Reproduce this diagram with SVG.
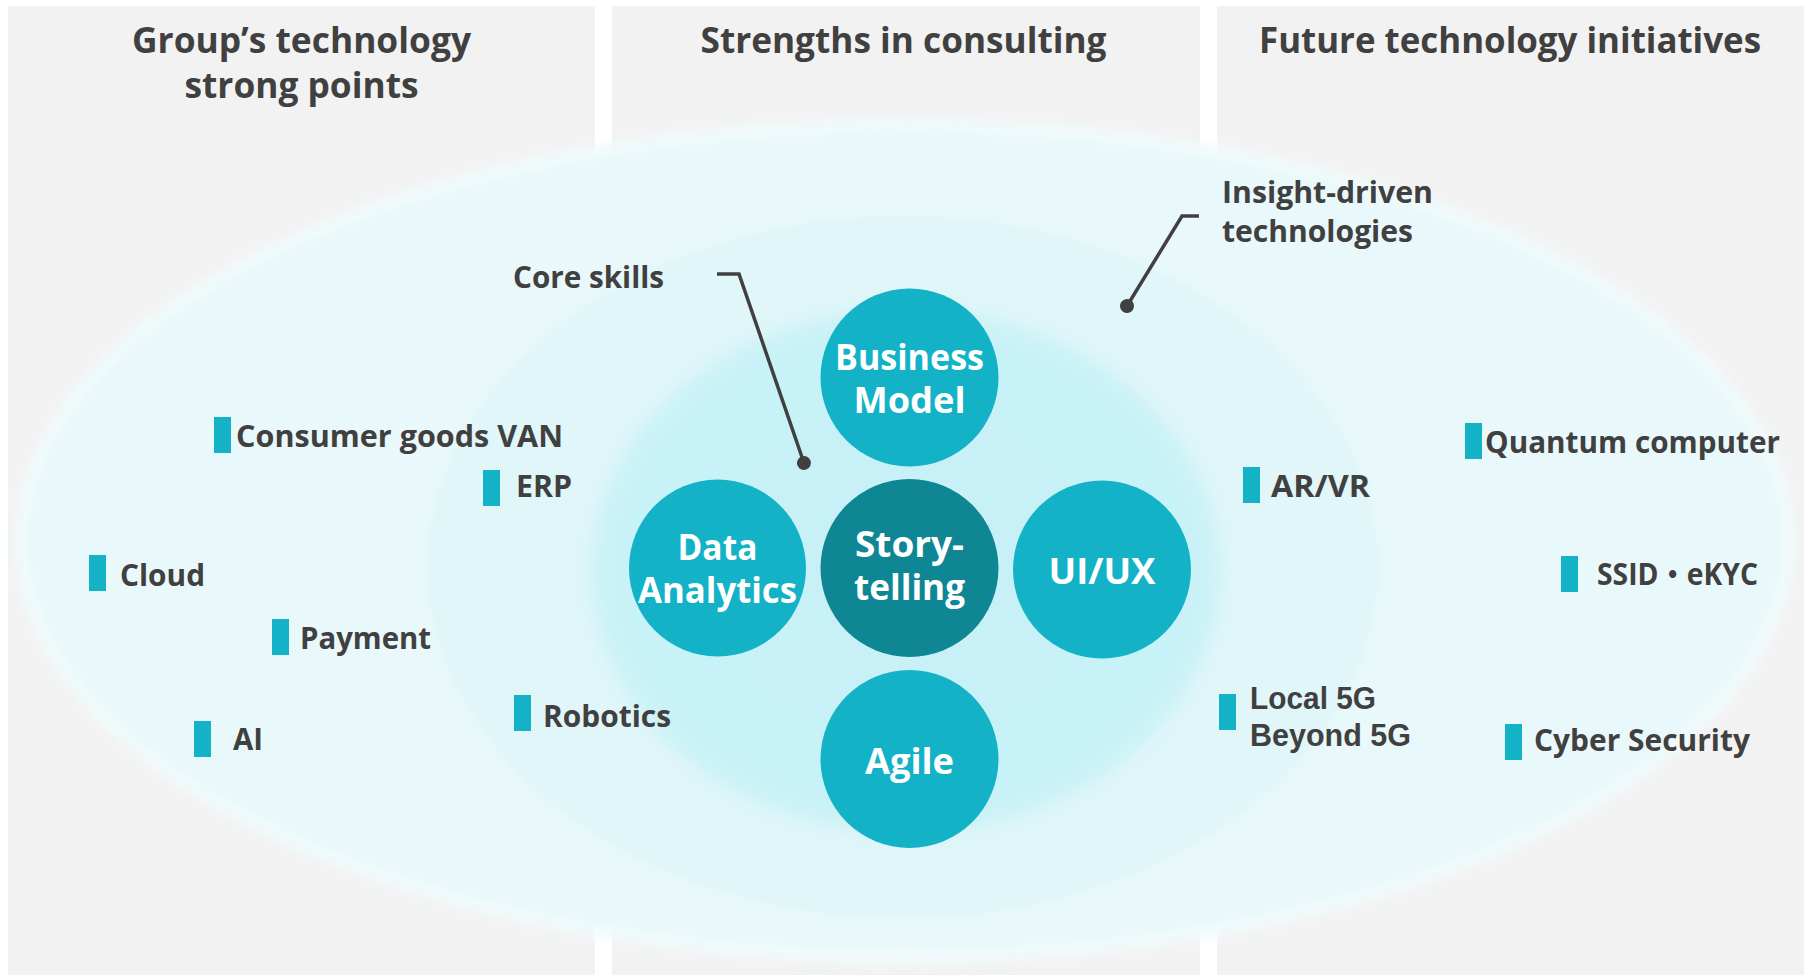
<svg xmlns="http://www.w3.org/2000/svg" width="1804" height="975" viewBox="0 0 1804 975">
<style>
.panel{fill:#f2f2f2}
.title{font-family:'Open Sans','Noto Sans','Liberation Sans',sans-serif;font-weight:700;font-size:36px;fill:#404040;text-anchor:middle}
.lbl{font-family:'Open Sans','Noto Sans','Liberation Sans','Noto Sans CJK JP',sans-serif;font-weight:700;font-size:31px;fill:#404040}
.lbl2{font-family:'Liberation Sans','Open Sans',sans-serif;font-weight:700;font-size:31px;fill:#404040}
.bar{fill:#13b2c6}
.node{fill:#13b2c6}
.core{fill:#0f8694}
.ntext{font-family:'Open Sans','Noto Sans','Liberation Sans',sans-serif;font-weight:700;font-size:35px;fill:#ffffff;text-anchor:middle}
.leader{fill:none;stroke:#404040;stroke-width:3.5;stroke-linejoin:miter;marker-end:url(#dot)}
</style>
<defs>
<radialGradient id="gInner" cx="50%" cy="50%" r="50%">
<stop offset="0" stop-color="#c7f1f6"/>
<stop offset="0.9" stop-color="#c7f2f7"/>
<stop offset="1" stop-color="#cef3f7"/>
</radialGradient>
<filter id="soft" x="-5%" y="-5%" width="110%" height="110%"><feGaussianBlur stdDeviation="6"/></filter>
<filter id="softer" x="-10%" y="-10%" width="120%" height="120%"><feGaussianBlur stdDeviation="9"/></filter>
<marker id="dot" markerUnits="userSpaceOnUse" markerWidth="16" markerHeight="16" refX="8" refY="8" orient="auto">
<circle cx="8" cy="8" r="7" fill="#404040"/>
</marker>
</defs>
<rect width="1804" height="975" fill="#ffffff"/>
<g id="panels">
<rect class="panel" x="8" y="6" width="587" height="969"/>
<rect class="panel" x="612" y="6" width="588" height="969"/>
<rect class="panel" x="1217" y="6" width="587" height="969"/>
</g>
<g id="titles">
<text class="title" x="301.5" y="53" textLength="339" lengthAdjust="spacingAndGlyphs">Group’s technology</text>
<text class="title" x="301.5" y="98" textLength="234" lengthAdjust="spacingAndGlyphs">strong points</text>
<text class="title" x="903.5" y="53" textLength="406" lengthAdjust="spacingAndGlyphs">Strengths in consulting</text>
<text class="title" x="1510" y="53" textLength="502" lengthAdjust="spacingAndGlyphs">Future technology initiatives</text>
</g>
<g id="rings">
<ellipse id="outer-ring" cx="905" cy="541" rx="884" ry="416" fill="#e9f8fa" stroke="#f1fbfc" stroke-width="12" filter="url(#soft)"/>
<ellipse id="middle-ring" cx="903" cy="567" rx="482" ry="358" fill="#e0f6f8" stroke="#eaf9fa" stroke-width="10" filter="url(#soft)"/>
<ellipse id="inner-ring" cx="906" cy="571" rx="316" ry="263" fill="url(#gInner)" filter="url(#softer)"/>
</g>
<g id="connectors">
<polyline class="leader" points="717,274 739,274 804,463"/>
<polyline class="leader" points="1199,216 1182,216 1127,306"/>
</g>
<g id="label-core-skills"><text class="lbl" x="513" y="288" textLength="151" lengthAdjust="spacingAndGlyphs">Core skills</text></g>
<g id="label-insight"><text class="lbl" x="1222" y="203" textLength="211" lengthAdjust="spacingAndGlyphs">Insight-driven</text><text class="lbl" x="1222" y="242" textLength="191" lengthAdjust="spacingAndGlyphs">technologies</text></g>
<g id="node-business-model"><circle class="node" cx="909.5" cy="377.5" r="89"/><text class="ntext" x="909.5" y="370" textLength="149" lengthAdjust="spacingAndGlyphs">Business</text><text class="ntext" x="909.5" y="413" textLength="112" lengthAdjust="spacingAndGlyphs">Model</text></g>
<g id="node-data-analytics"><circle class="node" cx="717.5" cy="568" r="88.5"/><text class="ntext" x="717.5" y="560" textLength="80" lengthAdjust="spacingAndGlyphs">Data</text><text class="ntext" x="717.5" y="603" textLength="159" lengthAdjust="spacingAndGlyphs">Analytics</text></g>
<g id="node-storytelling"><circle class="core" cx="909.5" cy="568" r="89"/><text class="ntext" x="909.5" y="557" textLength="109" lengthAdjust="spacingAndGlyphs">Story-</text><text class="ntext" x="909.5" y="600" textLength="111" lengthAdjust="spacingAndGlyphs">telling</text></g>
<g id="node-uiux"><circle class="node" cx="1102" cy="569.5" r="89"/><text class="ntext" x="1102" y="584" textLength="107" lengthAdjust="spacingAndGlyphs">UI/UX</text></g>
<g id="node-agile"><circle class="node" cx="909.5" cy="759" r="89"/><text class="ntext" x="909.5" y="774" textLength="89" lengthAdjust="spacingAndGlyphs">Agile</text></g>
<g id="item-consumer-goods-van"><rect class="bar" x="214" y="417" width="17" height="36"/><text class="lbl" x="236" y="447" textLength="327" lengthAdjust="spacingAndGlyphs">Consumer goods VAN</text></g>
<g id="item-erp"><rect class="bar" x="483" y="470" width="17" height="36"/><text class="lbl" x="516" y="497" textLength="56" lengthAdjust="spacingAndGlyphs">ERP</text></g>
<g id="item-cloud"><rect class="bar" x="89" y="555" width="17" height="36"/><text class="lbl" x="120" y="586" textLength="85" lengthAdjust="spacingAndGlyphs">Cloud</text></g>
<g id="item-payment"><rect class="bar" x="272" y="619" width="17" height="36"/><text class="lbl" x="300" y="649" textLength="131" lengthAdjust="spacingAndGlyphs">Payment</text></g>
<g id="item-ai"><rect class="bar" x="194" y="721" width="17" height="36"/><text class="lbl" x="233" y="750" textLength="30" lengthAdjust="spacingAndGlyphs">AI</text></g>
<g id="item-robotics"><rect class="bar" x="514" y="695" width="17" height="36"/><text class="lbl" x="543" y="727" textLength="128" lengthAdjust="spacingAndGlyphs">Robotics</text></g>
<g id="item-arvr"><rect class="bar" x="1243" y="467" width="17" height="36"/><text class="lbl" x="1271" y="497" textLength="99" lengthAdjust="spacingAndGlyphs">AR/VR</text></g>
<g id="item-quantum"><rect class="bar" x="1465" y="423" width="17" height="36"/><text class="lbl" x="1485" y="453" textLength="295" lengthAdjust="spacingAndGlyphs">Quantum computer</text></g>
<g id="item-ssid"><rect class="bar" x="1561" y="556" width="17" height="36"/><text class="lbl" x="1597" y="585" textLength="161" lengthAdjust="spacingAndGlyphs">SSID・eKYC</text></g>
<g id="item-5g"><rect class="bar" x="1219" y="694" width="17" height="36"/><text class="lbl2" x="1250" y="709" textLength="126" lengthAdjust="spacingAndGlyphs">Local 5G</text><text class="lbl2" x="1250" y="746" textLength="161" lengthAdjust="spacingAndGlyphs">Beyond 5G</text></g>
<g id="item-cyber"><rect class="bar" x="1505" y="724" width="17" height="36"/><text class="lbl" x="1534" y="751" textLength="216" lengthAdjust="spacingAndGlyphs">Cyber Security</text></g>
</svg>
